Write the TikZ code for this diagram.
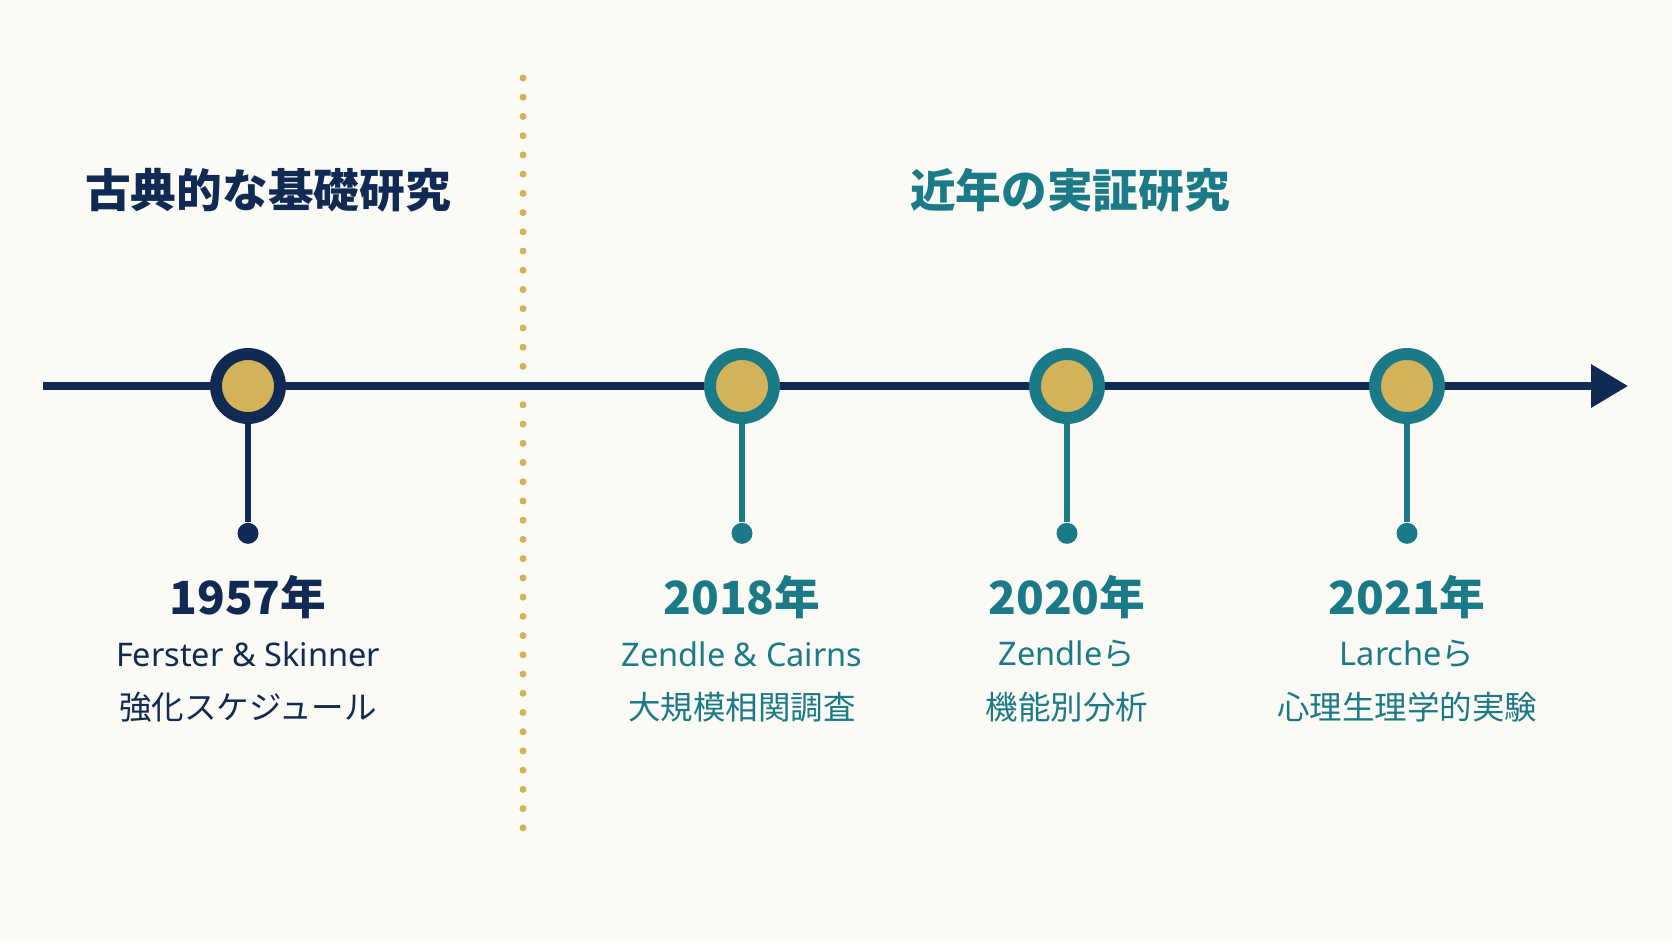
\documentclass[tikz,border=0pt]{standalone}
\usepackage{fontspec}
\setmainfont{Noto Sans CJK JP}
\newfontfamily\latin{Noto Sans}
\usetikzlibrary{arrows.meta,positioning}
\definecolor{navy}{RGB}{16,42,84}
\definecolor{teal2}{RGB}{27,122,135}
\definecolor{gold}{RGB}{212,178,90}
\definecolor{paper}{RGB}{251,250,245}
\tikzstyle{event} = [circle, draw=teal2, fill=gold, line width=6.8pt, minimum size=1.28cm, inner sep=0pt]
\tikzstyle{eventold} = [event, draw=navy]
\tikzstyle{tip} = [circle, fill=teal2, minimum size=0.42cm, inner sep=0pt]
\tikzstyle{tipold} = [tip, fill=navy]
\tikzstyle{stem} = [draw=teal2, line width=3.6pt]
\tikzstyle{year} = [text=teal2, font=\fontsize{26}{30}\selectfont\bfseries]
\tikzstyle{sub} = [text=teal2, font=\fontsize{18.5}{22}\selectfont]
\tikzstyle{head} = [font=\fontsize{26}{30}\selectfont\bfseries]

\begin{document}
\begin{tikzpicture}[x=0.02cm, y=-0.02cm]
    \fill[paper] (0,0) rectangle (1672,941);
    \useasboundingbox (0,0) rectangle (1672,941);
    % era divider
    \coordinate (divtop) at (523,78);
    \coordinate (divbot) at (523,828);
    \draw[gold, line width=0.14cm, line cap=round, dash pattern=on 0pt off 0.3846cm] (divtop) -- (divbot);
    \node [head, text=navy] (old) at (268,190) {古典的な基礎研究};
    \node [head, text=teal2] (new) at (1070,190) {近年の実証研究};
    % axis
    \coordinate (start) at (43,386);
    \coordinate (end) at (1628,386);
    \draw [navy, line width=4pt, -{Triangle[length=0.74cm, width=0.84cm]}] (start) -- (end);
    % events
    \node [eventold] (e1957) at (248,386) {};
    \node [event] (e2018) at (742,386) {};
    \node [event] (e2020) at (1067,386) {};
    \node [event] (e2021) at (1407,386) {};
    \node [tipold, below=1.97cm of e1957] (t1957) {};
    \node [tip, below=1.97cm of e2018] (t2018) {};
    \node [tip, below=1.97cm of e2020] (t2020) {};
    \node [tip, below=1.97cm of e2021] (t2021) {};
    \path [stem, draw=navy] (e1957) -- (t1957);
    \path [stem] (e2018) -- (t2018);
    \path [stem] (e2020) -- (t2020);
    \path [stem] (e2021) -- (t2021);
    % labels
    \node [year, text=navy] (y1957) at (248,597) {1957年};
    \node [sub, text=navy] (a1957) at (248,654) {\latin Ferster \& Skinner};
    \node [sub, text=navy] (b1957) at (248,707) {強化スケジュール};
    \node [year] (y2018) at (742,597) {2018年};
    \node [sub] (a2018) at (742,654) {\latin Zendle \& Cairns};
    \node [sub] (b2018) at (742,707) {大規模相関調査};
    \node [year] (y2020) at (1067,597) {2020年};
    \node [sub] (a2020) at (1067,654) {{\latin Zendle}ら};
    \node [sub] (b2020) at (1067,707) {機能別分析};
    \node [year] (y2021) at (1407,597) {2021年};
    \node [sub] (a2021) at (1407,654) {{\latin Larche}ら};
    \node [sub] (b2021) at (1407,707) {心理生理学的実験};
\end{tikzpicture}
\end{document}
